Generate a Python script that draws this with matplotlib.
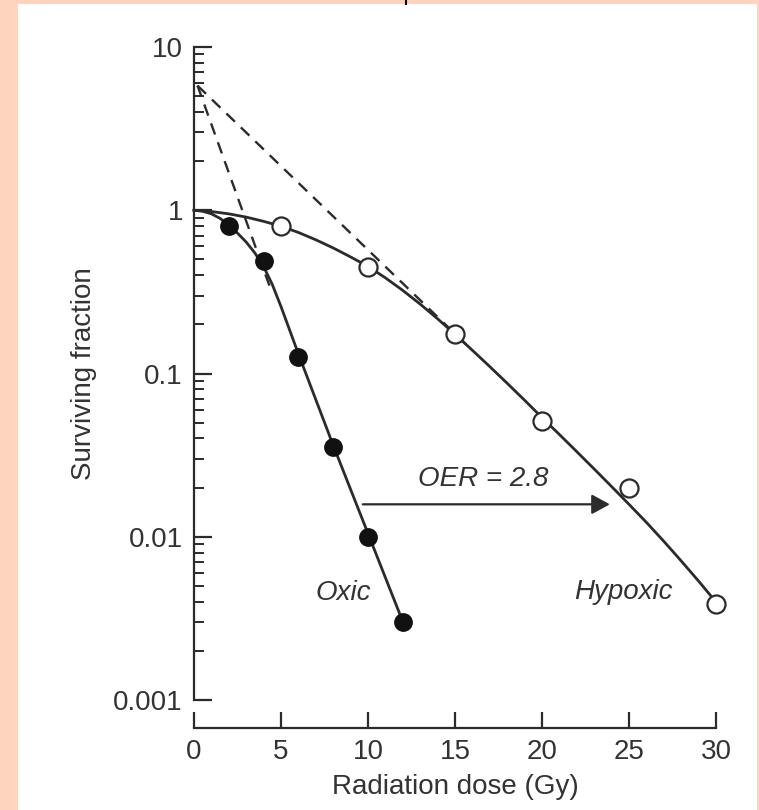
import matplotlib
matplotlib.use("Agg")
import matplotlib.pyplot as plt
from matplotlib.patches import Rectangle
from matplotlib.lines import Line2D
from matplotlib.ticker import LogLocator, NullFormatter

plt.rcParams['font.family'] = ['Liberation Sans', 'DejaVu Sans']

# ---- data ----
oxic_dose = [2, 4, 6, 8, 10, 12]
oxic_sf = [0.80, 0.49, 0.127, 0.0356, 0.0100, 0.0030]

hypoxic_dose = [5, 10, 15, 20, 25, 30]
hypoxic_sf = [0.80, 0.45, 0.175, 0.051, 0.020, 0.0039]

oxic_curve_dose = [0, 0.5, 1, 1.5, 2, 2.5, 3, 3.5, 4, 4.5, 5, 5.5, 6, 7, 8, 9, 10, 11, 12]
oxic_curve_sf = [1.0, 0.9863, 0.9506, 0.8913, 0.8128, 0.7244, 0.6383, 0.5470, 0.4519,
                 0.3508, 0.2570, 0.1841, 0.1318, 0.0692, 0.0363, 0.0195, 0.01047,
                 0.00562, 0.00302]

hypoxic_curve_dose = list(range(0, 31))
hypoxic_curve_sf = [1.0, 0.9817, 0.9506, 0.9078, 0.8551, 0.7980, 0.7311, 0.6592, 0.5875,
                    0.5176, 0.4529, 0.3855, 0.3228, 0.2661, 0.2163, 0.1738, 0.1387,
                    0.1102, 0.0871, 0.0686, 0.0537, 0.0423, 0.0332, 0.0260, 0.0203,
                    0.0158, 0.01225, 0.00938, 0.00711, 0.00535, 0.00398]

oxic_extrap_dose = [0.2, 4.4]
oxic_extrap_sf = [5.8, 0.33]
hypoxic_extrap_dose = [0.2, 15.8]
hypoxic_extrap_sf = [5.8, 0.145]

x_ticks = [0, 5, 10, 15, 20, 25, 30]
y_ticks = [0.001, 0.01, 0.1, 1, 10]
y_tick_labels = ['0.001', '0.01', '0.1', '1', '10']

oer_arrow_start = (9.7, 0.0158)
oer_arrow_end = (23.9, 0.0158)

# ---- styling ----
ink = '#2b2b2b'
txt = '#333333'
peach = '#FFD3BE'
fs = 20

fig = plt.figure(figsize=(7.59, 8.10), dpi=100, facecolor='white')
W, H = 759, 810
# peach border
fig.add_artist(Rectangle((0, 0), 18 / W, 1, transform=fig.transFigure,
                         facecolor=peach, edgecolor='none', zorder=-5))
fig.add_artist(Rectangle((0, 1 - 3.5 / H), 1, 3.5 / H, transform=fig.transFigure,
                         facecolor=peach, edgecolor='none', zorder=-5))
fig.add_artist(Rectangle((1 - 2 / W, 0), 2 / W, 1, transform=fig.transFigure,
                         facecolor=peach, edgecolor='none', zorder=-5))
fig.add_artist(Line2D([406 / W, 406 / W], [1, 1 - 4 / H], transform=fig.transFigure,
                      color='black', lw=1.5))

left, right = 194 / W, 716 / W
bottom, top = 1 - 700 / H, 1 - 47 / H
ax = fig.add_axes([left, bottom, right - left, top - bottom])
ax.set_facecolor('none')

ax.set_yscale('log')
ax.set_xlim(0, 30)
ax.set_ylim(0.001, 10)

# curves
ax.plot(oxic_curve_dose, oxic_curve_sf, color=ink, lw=2.0, zorder=3, clip_on=False,
        solid_joinstyle='round')
ax.plot(hypoxic_curve_dose, hypoxic_curve_sf, color=ink, lw=2.0, zorder=3, clip_on=False,
        solid_joinstyle='round')
# extrapolations
ax.plot(oxic_extrap_dose, oxic_extrap_sf, color=ink, lw=1.7, ls=(0, (5, 3.5)), zorder=2)
ax.plot(hypoxic_extrap_dose, hypoxic_extrap_sf, color=ink, lw=1.7, ls=(0, (5, 3.5)), zorder=2)
# points
ax.plot(oxic_dose, oxic_sf, 'o', ms=12.5, mfc='#111111', mec='#111111', mew=1,
        zorder=5, clip_on=False)
ax.plot(hypoxic_dose, hypoxic_sf, 'o', ms=13, mfc='white', mec=ink, mew=1.6,
        zorder=5, clip_on=False)

# OER arrow
ax.annotate('', xy=oer_arrow_end, xytext=oer_arrow_start,
            arrowprops=dict(arrowstyle='-|>,head_length=0.55,head_width=0.3',
                            mutation_scale=20, lw=1.6, color=ink,
                            shrinkA=0, shrinkB=0), zorder=4)
ax.text(16.6, 0.0225, 'OER = 2.8', style='italic', fontsize=fs, color=txt,
        ha='center', va='center')
ax.text(8.6, 0.0045, 'Oxic', style='italic', fontsize=fs, color=txt,
        ha='center', va='center')
ax.text(24.7, 0.0046, 'Hypoxic', style='italic', fontsize=fs, color=txt,
        ha='center', va='center')

# axes
for s in ['top', 'right']:
    ax.spines[s].set_visible(False)
ax.spines['left'].set_linewidth(1.6)
ax.spines['bottom'].set_linewidth(1.6)
ax.spines['left'].set_color(ink)
ax.spines['bottom'].set_color(ink)
ax.spines['bottom'].set_position(('outward', 20))

ax.set_xticks(x_ticks)
ax.set_xticklabels([str(t) for t in x_ticks])
ax.set_yticks(y_ticks)
ax.set_yticklabels(y_tick_labels)
ax.yaxis.set_minor_locator(LogLocator(base=10, subs=range(2, 10)))
ax.yaxis.set_minor_formatter(NullFormatter())
ax.tick_params(axis='both', which='major', direction='in', length=13, width=1.6,
               color=ink, labelsize=fs, labelcolor=txt)
ax.tick_params(axis='y', which='major', pad=8)
ax.tick_params(axis='x', which='major', pad=8, length=11.5)
ax.tick_params(axis='y', which='minor', direction='in', length=7.5, width=1.4, color=ink)
ax.tick_params(axis='x', which='minor', length=0)

ax.set_xlabel('Radiation dose (Gy)', fontsize=fs, color=txt)
ax.set_ylabel('Surviving fraction', fontsize=fs, color=txt)
ax.xaxis.set_label_coords(0.5, -0.114)
ax.yaxis.set_label_coords(-0.186, 0.5)

fig.savefig('out.png', dpi=100, facecolor='white')
